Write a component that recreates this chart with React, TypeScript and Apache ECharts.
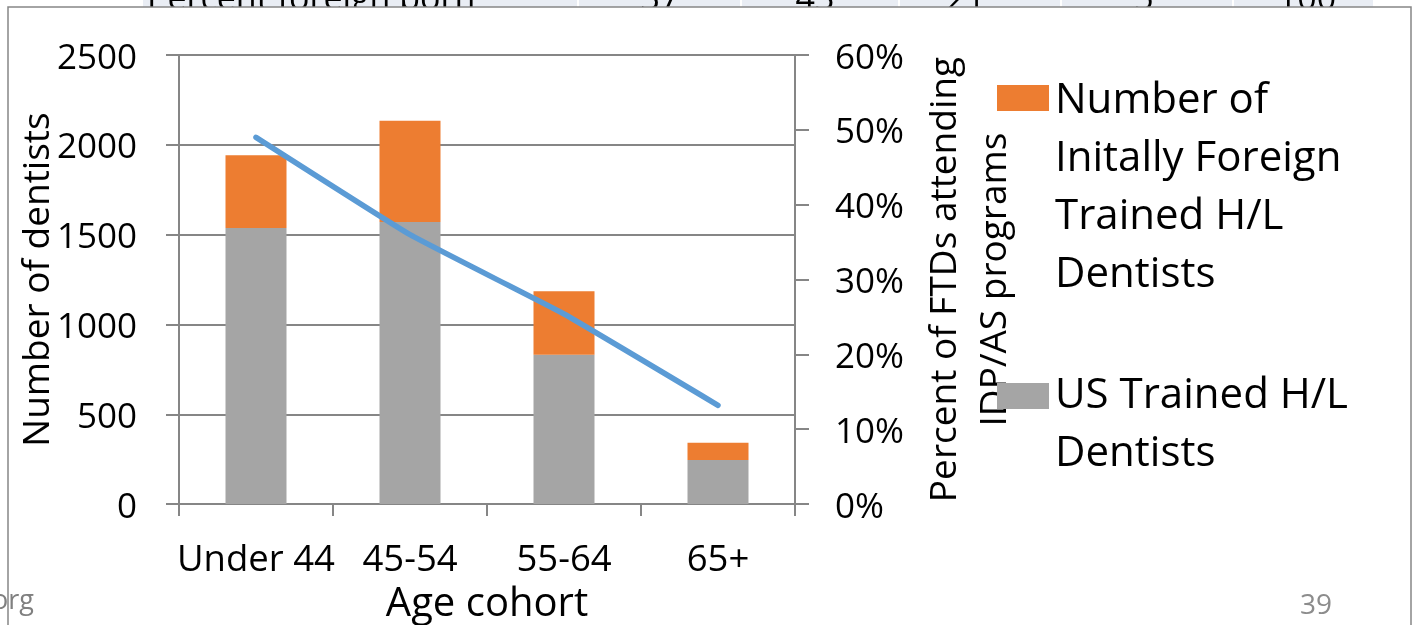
import React, { useEffect, useRef } from "react";
import * as echarts from "echarts";

const categories = ["Under 44", "45-54", "55-64", "65+"];
const usTrained = [1537, 1570, 831, 245];
const foreignTrained = [405, 564, 354, 97];
const percentIDP = [49, 36, 25.4, 13.2];
const leftTicks = { min: 0, max: 2500, interval: 500 };
const rightTicks = { min: 0, max: 60, interval: 10 };
const tableLabel = "Percent foreign born";
const tableValues = ["37", "43", "21", "5", "100"];
const legendForeign = "Number of\nInitally Foreign\nTrained H/L\nDentists";
const legendUS = "US Trained H/L\nDentists";

const FONT = "'Open Sans', 'Noto Sans', sans-serif";
const AXIS = "#868686";

export default function App() {
  const ref = useRef<HTMLDivElement>(null);
  useEffect(() => {
    if (!ref.current) return;
    const chart = echarts.init(ref.current, null, { renderer: "svg" });
    const tableCenters = [660, 815, 966, 1144, 1307];
    const separators = [578, 741, 899, 1061, 1233];
    const graphic: any[] = [
      { type: "rect", z: -30, shape: { x: 143, y: 0, width: 1230, height: 8 }, style: { fill: "#E9EDF4" } },
      ...separators.map((x) => ({ type: "rect", z: -29, shape: { x: x - 1, y: 0, width: 2, height: 8 }, style: { fill: "#ffffff" } })),
      { type: "text", z: -28, x: 147, y: 14, style: { text: tableLabel, font: `34px ${FONT}`, fill: "#000", textAlign: "left", textVerticalAlign: "bottom" } },
      ...tableValues.map((t, i) => ({ type: "text", z: -28, x: tableCenters[i], y: 14, style: { text: t, font: `34px ${FONT}`, fill: "#000", textAlign: "center", textVerticalAlign: "bottom" } })),
      { type: "rect", z: -20, shape: { x: 8, y: 7, width: 1403, height: 650 }, style: { fill: "#ffffff", stroke: AXIS, lineWidth: 1.5 } },
      { type: "text", z: 50, x: -8, y: 612, style: { text: "org", font: `27px ${FONT}`, fill: "#808080", textAlign: "left", textVerticalAlign: "bottom" } },
      { type: "text", z: 50, x: 1316, y: 617, style: { text: "39", font: `28px ${FONT}`, fill: "#8C8C8C", textAlign: "center", textVerticalAlign: "bottom" } },
      { type: "rect", z: 100, shape: { x: 997, y: 85, width: 52, height: 26 }, style: { fill: "#ED7D31" } },
      { type: "text", z: 100, x: 1055, y: 67, style: { text: legendForeign, font: `42px ${FONT}`, lineHeight: 58, fill: "#000", textAlign: "left", textVerticalAlign: "top" } },
      { type: "rect", z: 100, shape: { x: 997, y: 383, width: 52, height: 26 }, style: { fill: "#A5A5A5" } },
      { type: "text", z: 100, x: 1055, y: 362, style: { text: legendUS, font: `42px ${FONT}`, lineHeight: 58, fill: "#000", textAlign: "left", textVerticalAlign: "top" } },
    ];
    chart.setOption({
      animation: false,
      textStyle: { fontFamily: FONT },
      grid: { left: 179, width: 616, top: 55, height: 462, containLabel: false },
      graphic,
      xAxis: {
        type: "category",
        data: categories,
        name: "Age cohort",
        nameLocation: "middle",
        nameGap: 55,
        nameTextStyle: { fontSize: 40, color: "#000", fontFamily: FONT },
        axisLine: { lineStyle: { color: AXIS, width: 2 } },
        axisTick: { show: true, length: 12, lineStyle: { color: AXIS, width: 2 } },
        axisLabel: { fontSize: 36.5, color: "#000", margin: 34, interval: 0, fontFamily: FONT },
      },
      yAxis: [
        {
          type: "value",
          ...leftTicks,
          name: "Number of dentists",
          nameLocation: "middle",
          nameGap: 109,
          nameTextStyle: { fontSize: 37, color: "#000", fontFamily: FONT },
          axisLine: { show: true, lineStyle: { color: AXIS, width: 2 } },
          axisTick: { show: true, length: 13, lineStyle: { color: AXIS, width: 2 } },
          axisLabel: { fontSize: 35, color: "#000", margin: 42, formatter: (v: number) => String(v), fontFamily: FONT },
          splitLine: { show: true, lineStyle: { color: AXIS, width: 2 } },
        },
        {
          type: "value",
          ...rightTicks,
          position: "right",
          name: "Percent of FTDs attending\nIDP/AS programs",
          nameLocation: "middle",
          nameGap: 121,
          nameRotate: 90,
          nameTextStyle: { fontSize: 37, color: "#000", lineHeight: 50, fontFamily: FONT },
          axisLine: { show: true, lineStyle: { color: AXIS, width: 2 } },
          axisTick: { show: true, length: 14, lineStyle: { color: AXIS, width: 2 } },
          axisLabel: { fontSize: 35, color: "#000", margin: 40, formatter: "{value}%", fontFamily: FONT },
          splitLine: { show: false },
        },
      ],
      series: [
        {
          name: "US Trained H/L Dentists",
          type: "bar",
          stack: "total",
          data: usTrained,
          barWidth: 61,
          itemStyle: { color: "#A5A5A5" },
        },
        {
          name: "Number of Initally Foreign Trained H/L Dentists",
          type: "bar",
          stack: "total",
          data: foreignTrained,
          barWidth: 61,
          itemStyle: { color: "#ED7D31" },
        },
        {
          name: "Percent of FTDs attending IDP/AS programs",
          type: "line",
          yAxisIndex: 1,
          data: percentIDP,
          showSymbol: false,
          symbol: "none",
          smooth: 0.1,
          lineStyle: { color: "#5B9BD5", width: 5.5, cap: "round", join: "round" },
          z: 5,
        },
      ],
    });
    return () => chart.dispose();
  }, []);
  return <div ref={ref} style={{ position: "fixed", left: 0, top: 0, width: 1414, height: 625 }} />;
}
